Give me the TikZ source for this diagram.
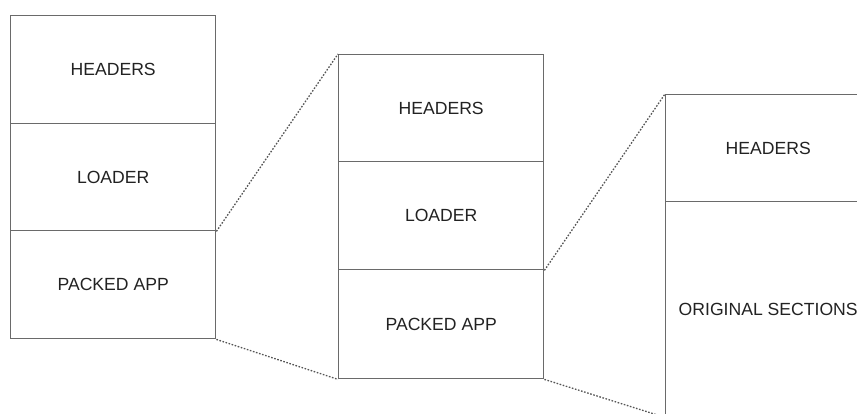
\documentclass[tikz,border=0pt]{standalone}
\usepackage{fontspec}
\setmainfont{Liberation Sans}
\usepackage{tikz}
\usetikzlibrary{positioning,calc}
\usepackage{xcolor}
\definecolor{rimgray}{HTML}{6A6A6A}
\definecolor{inkgray}{HTML}{222222}
\tikzset{
  memsec/.style={draw=rimgray,line width=1.4pt,fill=white,anchor=north west,
    minimum width=#1,inner sep=0pt,text=inkgray,
    font=\rmfamily\fontsize{17.6}{19}\selectfont},
  peek/.style={draw=rimgray!80!black,line width=1.3pt,dash pattern=on 1.6pt off 1.6pt}
}
% one stacked region of an image: x, y (top), height, name, label
\newcommand{\memrung}[5]{%
  \node[memsec=205pt,minimum height=#3 pt] (#4) at (#1,#2) {#5};
}

\begin{document}
\begin{tikzpicture}[x=1pt,y=-1pt]
  \useasboundingbox (0,0) rectangle (857,414);
  \clip (0,0) rectangle (857,414);
  % packed file
  \memrung{10}{15}{108}{hdrA}{HEADERS}
  \memrung{10}{123}{107}{ldrA}{LOADER}
  \memrung{10}{230}{108}{appA}{PACKED APP}
  % loaded in memory
  \memrung{338}{54}{107}{hdrB}{HEADERS}
  \memrung{338}{161}{108}{ldrB}{LOADER}
  \memrung{338}{269}{109}{appB}{PACKED APP}
  % unpacked
  \memrung{665}{94}{107}{hdrC}{HEADERS}
  \memrung{665}{201}{215}{orgC}{ORIGINAL SECTIONS}
  % zoom lines
  \draw[peek] (ldrA.south east) -- (hdrB.north west);
  \draw[peek] (appA.south east) -- (appB.south west);
  \draw[peek] (ldrB.south east) -- (hdrC.north west);
  \draw[peek] (appB.south east) -- (orgC.south west);
\end{tikzpicture}
\end{document}
